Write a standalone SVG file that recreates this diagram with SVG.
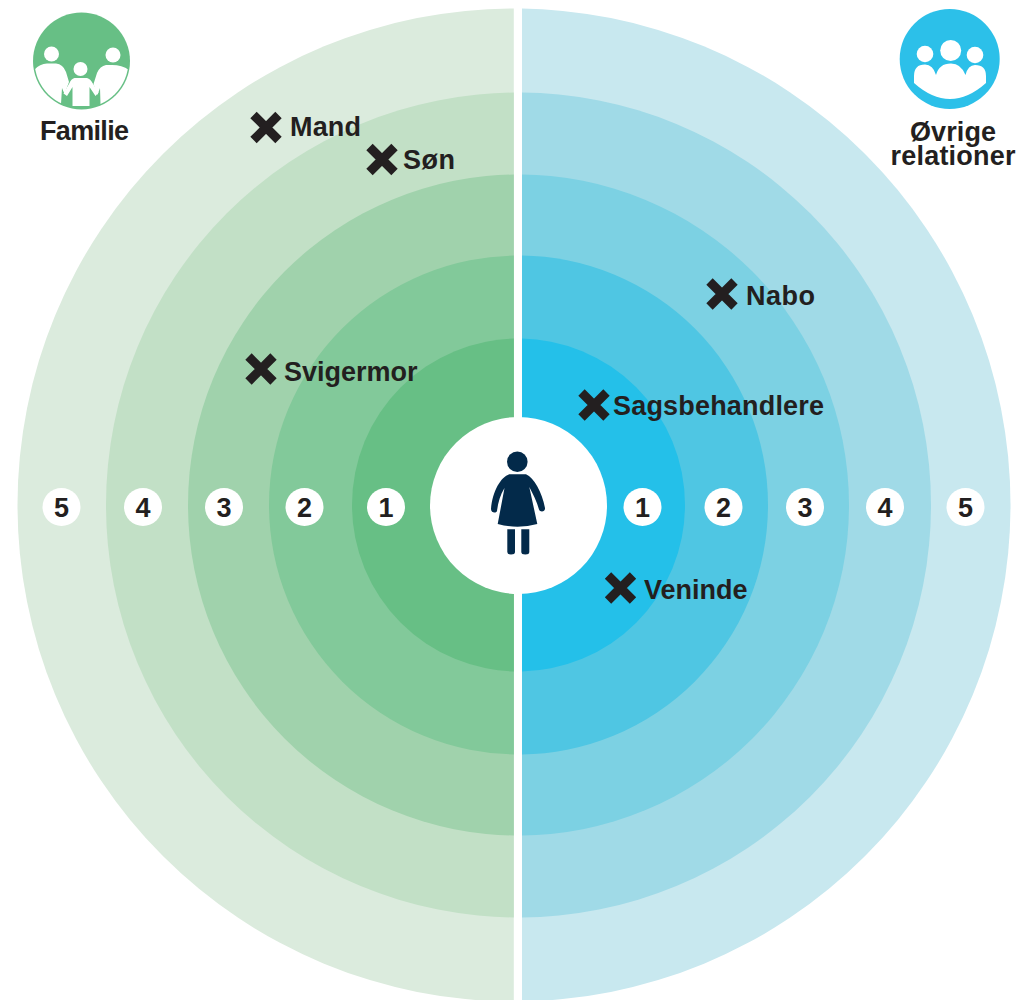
<svg xmlns="http://www.w3.org/2000/svg" width="1021" height="1000" viewBox="0 0 1021 1000">
<style>
.t{font-family:"Liberation Sans",Arial,sans-serif;font-weight:700;fill:#231f20;font-size:27px}
.n{text-anchor:middle}
.w{fill:#fff}
.x{stroke:#231f20;stroke-width:9;fill:none}
</style>
<defs>
<clipPath id="cl"><rect x="0" y="0" width="513.8" height="1000"/></clipPath>
<clipPath id="cr"><rect x="522" y="0" width="499" height="1000"/></clipPath>
<clipPath id="cf"><circle cx="81.5" cy="61" r="47"/></clipPath>
<path id="xm" d="M-12.5-12.5L12.5 12.5M-12.5 12.5L12.5-12.5"/>
<circle id="b" r="19" fill="#fff"/>
</defs>
<rect width="1021" height="1000" fill="#fff"/>
<g id="family-rings" clip-path="url(#cl)">
<circle cx="514" cy="505" r="496.5" fill="#dbebdd"/>
<circle cx="518.5" cy="505" r="412.5" fill="#c2e0c6"/>
<circle cx="518.5" cy="505" r="330.5" fill="#a0d2ac"/>
<circle cx="518.5" cy="505" r="249.5" fill="#82c99a"/>
<circle cx="518.5" cy="505" r="166.5" fill="#67bf85"/>
</g>
<g id="other-rings" clip-path="url(#cr)">
<circle cx="514" cy="505" r="496.5" fill="#c8e8ef"/>
<circle cx="518.5" cy="505" r="412.5" fill="#a0dae7"/>
<circle cx="518.5" cy="505" r="330.5" fill="#7cd1e3"/>
<circle cx="518.5" cy="505" r="249.5" fill="#4fc6e3"/>
<circle cx="518.5" cy="505" r="166.5" fill="#24c0e9"/>
</g>
<g id="person">
<circle cx="518.5" cy="505.5" r="88.5" fill="#fff"/>
<circle cx="517.3" cy="461.7" r="10.3" fill="#032a4a"/>
<path fill="#032a4a" d="M509.3 474.3H526C534 478 542 492 545 508C545.500 511.500 540.500 513 539 509.500C537 502 533 494 529.300 487L537.300 524Q517.500 529.500 497.700 524L504.500 488C500 495 498 503 497 511C496 513.500 491 513 491 509C492.500 491 501 477 509.300 474.300Z"/>
<path fill="#032a4a" d="M507.300 529.300H515V552Q515 554.500 511 554.500Q507.300 554.500 507.300 552ZM521.300 529.300H529.300V552Q529.300 554.500 525.300 554.500Q521.300 554.500 521.300 552Z"/>
</g>
<g id="scale" class="t n">
<use href="#b" x="61.500" y="507"/><text x="61.500" y="517">5</text>
<use href="#b" x="143" y="507"/><text x="143" y="517">4</text>
<use href="#b" x="224" y="507"/><text x="224" y="517">3</text>
<use href="#b" x="304.500" y="507"/><text x="304.500" y="517">2</text>
<use href="#b" x="386" y="507"/><text x="386" y="517">1</text>
<use href="#b" x="642.500" y="507"/><text x="642.500" y="517">1</text>
<use href="#b" x="723.500" y="507"/><text x="723.500" y="517">2</text>
<use href="#b" x="805" y="507"/><text x="805" y="517">3</text>
<use href="#b" x="885" y="507"/><text x="885" y="517">4</text>
<use href="#b" x="965.500" y="507"/><text x="965.500" y="517">5</text>
</g>
<g id="mand"><use href="#xm" class="x" x="266" y="127.500"/><text class="t" x="290" y="136" textLength="71">Mand</text></g>
<g id="son"><use href="#xm" class="x" x="382" y="159.500"/><text class="t" x="403" y="169" textLength="52">Søn</text></g>
<g id="svigermor"><use href="#xm" class="x" x="261" y="369"/><text class="t" x="284" y="381">Svigermor</text></g>
<g id="nabo"><use href="#xm" class="x" x="722" y="294"/><text class="t" x="746" y="305" textLength="69">Nabo</text></g>
<g id="sagsbehandlere"><use href="#xm" class="x" x="594" y="405"/><text class="t" x="613" y="415" textLength="211">Sagsbehandlere</text></g>
<g id="veninde"><use href="#xm" class="x" x="620.500" y="588"/><text class="t" x="644" y="599">Veninde</text></g>
<g id="familie">
<circle cx="81.500" cy="61" r="48.500" fill="#67bf85"/>
<g class="w" clip-path="url(#cf)">
<circle cx="51.500" cy="54" r="7.500"/><circle cx="80.500" cy="69" r="7"/><circle cx="113" cy="55" r="7.500"/>
<path d="M34 70Q40 63.500 47 63.500H56Q63 64 66 72L69 82L64.500 94L62 88L61 104L30 112Z"/>
<path d="M74.500 78H87Q90.500 79 92.500 83L98.500 92.500L95.500 96L89.500 87V106H72.500V87L67 96L63.500 93.500L69.500 83Q71 79 74.500 78Z"/>
<path d="M129 70Q122 65 112 65H106Q100 66 97 73L93.500 84L97.500 95L100 88L100.500 104L132 112Z"/>
</g>
<text class="t n" x="84.500" y="140" textLength="89">Familie</text>
</g>
<g id="ovrige">
<circle cx="949.700" cy="59" r="50" fill="#2cc0e9"/>
<circle class="w" cx="925" cy="54" r="8.300"/><circle class="w" cx="950.700" cy="50.500" r="10.500"/><circle class="w" cx="975" cy="55" r="8.300"/>
<path class="w" d="M914 83V76Q914 64.500 925 64.500Q933 64.500 936 75Q939 63.500 951 63.500Q961 63.500 965.500 75Q968 65 975 65Q986 65 986 76V83Q968 99 950 99Q932 99 914 83Z"/>
<text class="t n" x="953" y="141" textLength="86">Øvrige</text>
<text class="t n" x="953" y="165" textLength="125">relationer</text>
</g>
</svg>
